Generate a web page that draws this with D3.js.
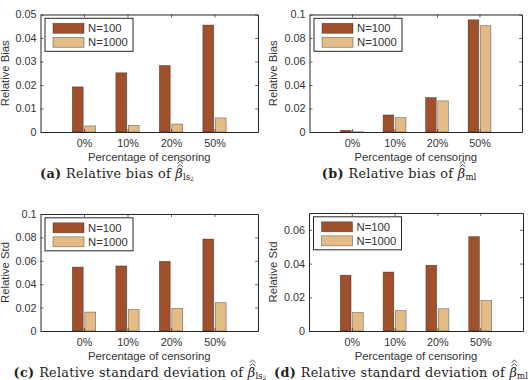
<!DOCTYPE html>
<html><head><meta charset="utf-8">
<script src="https://cdn.jsdelivr.net/npm/d3@7"></script>
<style>
html,body{margin:0;padding:0;background:#fff;}
svg{display:block;}
</style></head>
<body><svg id="chart" width="529" height="380"></svg>
<script>
const categories = ["0%", "10%", "20%", "50%"];
const seriesNames = ["N=100", "N=1000"];
const biasLs2N100 = [0.0192, 0.0252, 0.0283, 0.0455];
const biasLs2N1000 = [0.0026, 0.0028, 0.0034, 0.0060];
const biasMlN100 = [0.0014, 0.0145, 0.0293, 0.0955];
const biasMlN1000 = [0.0002, 0.0123, 0.0265, 0.0905];
const stdLs2N100 = [0.0546, 0.0556, 0.0595, 0.0786];
const stdLs2N1000 = [0.0162, 0.0184, 0.0193, 0.0242];
const stdMlN100 = [0.0331, 0.0350, 0.0390, 0.0560];
const stdMlN1000 = [0.0110, 0.0121, 0.0132, 0.0181];
const yTicksBiasLs2 = [0, 0.01, 0.02, 0.03, 0.04, 0.05];
const yTicksBiasMl = [0, 0.02, 0.04, 0.06, 0.08, 0.1];
const yTicksStdLs2 = [0, 0.02, 0.04, 0.06, 0.08, 0.1];
const yTicksStdMl = [0, 0.02, 0.04, 0.06];

const colors = ["#a0512c", "#e2bb86"];
const axisColor = "#262626";
const textColor = "#333";
const sans = "'Liberation Sans', Arial, sans-serif";
const serif = "'DejaVu Serif', 'Liberation Serif', serif";

const panels = [
  {x0: 40.5, x1: 258, y0: 14.5, y1: 132, yMax: 0.05, ticks: yTicksBiasLs2, s1: biasLs2N100, s2: biasLs2N1000,
   ylabel: "Relative Bias", ylx: 9, tag: "(a)", cap: "Relative bias of ", sub: "ls", sub2: "2", capX: 117},
  {x0: 309.5, x1: 522, y0: 14.5, y1: 132, yMax: 0.1, ticks: yTicksBiasMl, s1: biasMlN100, s2: biasMlN1000,
   ylabel: "Relative Bias", ylx: 277, tag: "(b)", cap: "Relative bias of ", sub: "ml", sub2: "", capX: 399},
  {x0: 40.5, x1: 258, y0: 214, y1: 331, yMax: 0.1, ticks: yTicksStdLs2, s1: stdLs2N100, s2: stdLs2N1000,
   ylabel: "Relative Std", ylx: 9, tag: "(c)", cap: "Relative standard deviation of ", sub: "ls", sub2: "2", capX: 140},
  {x0: 309, x1: 523, y0: 213, y1: 331, yMax: 0.07, ticks: yTicksStdMl, s1: stdMlN100, s2: stdMlN1000,
   ylabel: "Relative Std", ylx: 277, tag: "(d)", cap: "Relative standard deviation of ", sub: "ml", sub2: "", capX: 401}
];

const svg = d3.select("#chart");
const fmt = d => d === 0 ? "0" : String(+d.toFixed(4));

panels.forEach(p => {
  const g = svg.append("g");
  const x = d3.scaleLinear().domain([0, 5]).range([p.x0, p.x1]);
  const y = d3.scaleLinear().domain([0, p.yMax]).range([p.y1, p.y0]);
  const bw = x(0.25) - x(0);
  const offs = [-0.143, 0.143];
  [p.s1, p.s2].forEach((vals, si) => {
    g.selectAll(null).data(vals).enter().append("rect")
      .attr("x", (d, i) => x(i + 1 + offs[si]) - bw / 2)
      .attr("y", d => y(d))
      .attr("width", bw)
      .attr("height", d => y(0) - y(d))
      .attr("fill", colors[si])
      .attr("stroke", "#000").attr("stroke-opacity", 0.45).attr("stroke-width", 0.7);
  });
  const styleAxis = sel => {
    sel.selectAll("path.domain").attr("stroke", axisColor).attr("stroke-width", 1);
    sel.selectAll(".tick line").attr("stroke", axisColor).attr("stroke-width", 0.7);
    sel.selectAll("text").attr("fill", textColor).attr("font-family", sans).attr("font-size", "10.8px");
  };
  g.append("g").attr("transform", `translate(${p.x0},0)`)
    .call(d3.axisLeft(y).tickValues(p.ticks).tickSizeInner(-3).tickSizeOuter(0).tickPadding(4).tickFormat(fmt))
    .call(styleAxis);
  g.append("g").attr("transform", `translate(${p.x1},0)`)
    .call(d3.axisRight(y).tickValues(p.ticks).tickSizeInner(-3).tickSizeOuter(0).tickFormat(""))
    .call(styleAxis);
  g.append("g").attr("transform", `translate(0,${p.y1})`)
    .call(d3.axisBottom(x).tickValues([1, 2, 3, 4]).tickSizeInner(-3).tickSizeOuter(0).tickPadding(7).tickFormat(d => categories[d - 1]))
    .call(styleAxis);
  g.append("g").attr("transform", `translate(0,${p.y0})`)
    .call(d3.axisTop(x).tickValues([1, 2, 3, 4]).tickSizeInner(-3).tickSizeOuter(0).tickFormat(""))
    .call(styleAxis);
  g.append("text").attr("x", (p.x0 + p.x1) / 2).attr("y", p.y1 + 29)
    .attr("text-anchor", "middle").attr("font-family", sans).attr("font-size", "11.3px").attr("fill", textColor)
    .text("Percentage of censoring");
  g.append("text").attr("transform", `translate(${p.ylx},${(p.y0 + p.y1) / 2}) rotate(-90)`)
    .attr("text-anchor", "middle").attr("font-family", sans).attr("font-size", "11.3px").attr("fill", textColor)
    .text(p.ylabel);
  const lx = p.x0 + 4.5, ly = p.y0 + 3.8;
  const lg = g.append("g").attr("transform", `translate(${lx},${ly})`);
  lg.append("rect").attr("width", 88).attr("height", 33).attr("fill", "#fff")
    .attr("stroke", axisColor).attr("stroke-width", 1);
  seriesNames.forEach((n, i) => {
    lg.append("rect").attr("x", 8).attr("y", 5 + i * 14).attr("width", 31).attr("height", 10)
      .attr("fill", colors[i]).attr("stroke", "#000").attr("stroke-opacity", 0.45).attr("stroke-width", 0.7);
    lg.append("text").attr("x", 43).attr("y", 14 + i * 14).attr("font-family", sans).attr("font-size", "11.3px")
      .attr("fill", textColor).text(n);
  });
  // caption
  const cy = p.y1 + 45.5;
  const cap = g.append("text").attr("x", p.capX).attr("y", cy).attr("text-anchor", "middle")
    .attr("font-family", serif).attr("font-size", "12.8px").attr("letter-spacing", "0.3px").attr("fill", "#222");
  cap.append("tspan").attr("font-weight", "bold").text(p.tag + " ");
  cap.append("tspan").text(p.cap);
  cap.append("tspan").attr("font-style", "italic").text("β");
  cap.append("tspan").attr("font-size", "8.5px").attr("letter-spacing", "0px").attr("dy", 2.2).text(p.sub);
  if (p.sub2) cap.append("tspan").attr("font-size", "6px").attr("letter-spacing", "0px").attr("dy", 0.8).text(p.sub2);
  const idx = (p.tag + " " + p.cap).length;
  const node = cap.node();
  const s = node.getStartPositionOfChar(idx), e = node.getEndPositionOfChar(idx);
  const mx = (s.x + e.x) / 2 + 1;
  [0, 3.4].forEach(h => {
    g.append("path")
      .attr("d", `M${mx - 2.8},${cy - 10.5 - h} L${mx},${cy - 13 - h} L${mx + 2.8},${cy - 10.5 - h}`)
      .attr("fill", "none").attr("stroke", "#222").attr("stroke-width", 0.8);
  });
});
</script>
</body></html>
